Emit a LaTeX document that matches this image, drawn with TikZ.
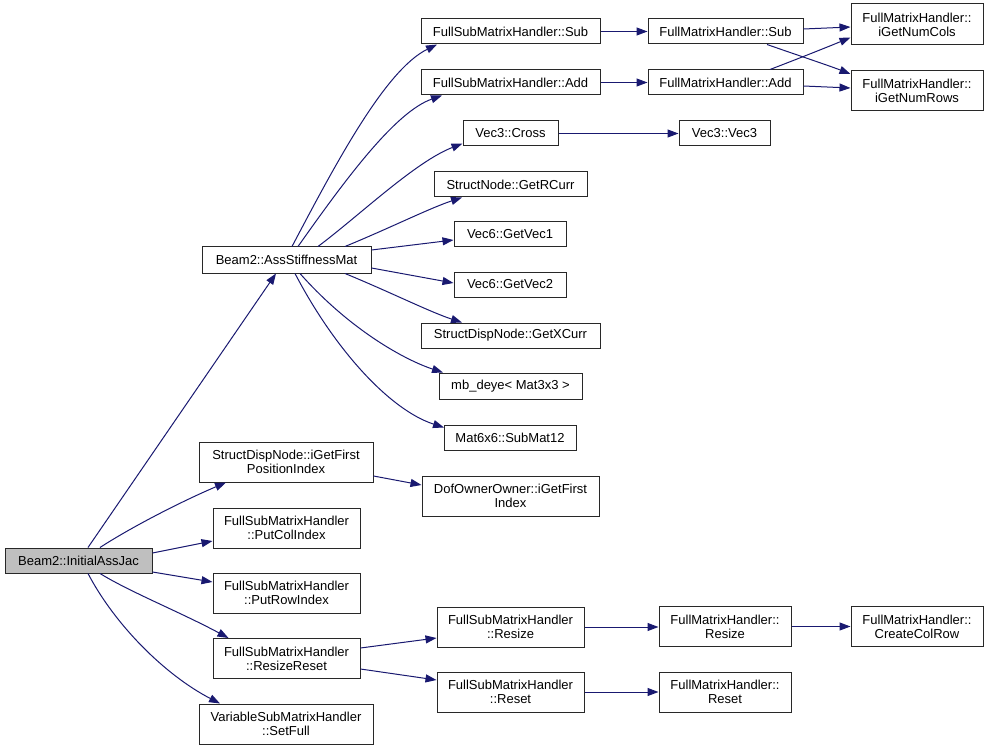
\documentclass[tikz,border=0pt]{standalone}
\usepackage{fontspec}
\setmainfont{Liberation Sans}
\usetikzlibrary{arrows.meta}
\definecolor{edgeblue}{RGB}{25,25,112}
\definecolor{rootgray}{RGB}{191,191,191}
\definecolor{boxline}{RGB}{40,40,40}
\tikzset{
  box/.style={draw=boxline, line width=1pt, fill=white, inner sep=0pt, align=center,
    font=\fontsize{13}{14}\selectfont},
  rootbox/.style={box, fill=rootgray},
  call/.style={draw=edgeblue, line width=1pt, -{Triangle[length=11pt,width=8pt]}},
}
\begin{document}
\begin{tikzpicture}[x=1pt,y=-1pt]
\useasboundingbox (0,0) rectangle (989,749);
% nodes
\node[rootbox, minimum width=147pt, minimum height=25pt] (root) at (78.5,560.5) {Beam2::InitialAssJac};
\node[box, minimum width=169pt, minimum height=26pt] (ass) at (286.5,260) {Beam2::AssStiffnessMat};
\node[box, minimum width=174pt, minimum height=40pt] (sdnpos) at (286,462) {StructDispNode::iGetFirst\\PositionIndex};
\node[box, minimum width=147pt, minimum height=40pt] (putcol) at (286.5,528) {FullSubMatrixHandler\\::PutColIndex};
\node[box, minimum width=147pt, minimum height=40pt] (putrow) at (286.5,593) {FullSubMatrixHandler\\::PutRowIndex};
\node[box, minimum width=147pt, minimum height=40pt] (rreset) at (286.5,658.5) {FullSubMatrixHandler\\::ResizeReset};
\node[box, minimum width=174pt, minimum height=40pt] (setfull) at (286,724) {VariableSubMatrixHandler\\::SetFull};
\node[box, minimum width=177pt, minimum height=40pt] (dof) at (510.5,496) {DofOwnerOwner::iGetFirst\\Index};
\node[box, minimum width=147pt, minimum height=40pt] (fsresize) at (510.5,627) {FullSubMatrixHandler\\::Resize};
\node[box, minimum width=147pt, minimum height=40pt] (fsreset) at (510.5,692) {FullSubMatrixHandler\\::Reset};
\node[box, minimum width=132pt, minimum height=40pt] (fmresize) at (725,626.5) {FullMatrixHandler::\\Resize};
\node[box, minimum width=132pt, minimum height=40pt] (fmreset) at (725,692) {FullMatrixHandler::\\Reset};
\node[box, minimum width=132pt, minimum height=40pt] (create) at (917,626.5) {FullMatrixHandler::\\CreateColRow};
\node[box, minimum width=179pt, minimum height=25pt] (fssub) at (510.5,31.5) {FullSubMatrixHandler::Sub};
\node[box, minimum width=179pt, minimum height=25pt] (fsadd) at (510.5,82.5) {FullSubMatrixHandler::Add};
\node[box, minimum width=155pt, minimum height=25pt] (fmsub) at (725.5,31.5) {FullMatrixHandler::Sub};
\node[box, minimum width=155pt, minimum height=25pt] (fmadd) at (725.5,82.5) {FullMatrixHandler::Add};
\node[box, minimum width=95pt, minimum height=25pt] (cross) at (510.5,133.5) {Vec3::Cross};
\node[box, minimum width=91pt, minimum height=25pt] (vec3) at (724.5,133.5) {Vec3::Vec3};
\node[box, minimum width=132pt, minimum height=41pt] (cols) at (917,24.5) {FullMatrixHandler::\\iGetNumCols};
\node[box, minimum width=132pt, minimum height=40pt] (rows) at (917,91) {FullMatrixHandler::\\iGetNumRows};
\node[box, minimum width=153pt, minimum height=25pt] (rcurr) at (510.5,184.5) {StructNode::GetRCurr};
\node[box, minimum width=112pt, minimum height=25pt] (vec1) at (510,234.5) {Vec6::GetVec1};
\node[box, minimum width=112pt, minimum height=25pt] (vec2) at (510,284.5) {Vec6::GetVec2};
\node[box, minimum width=179pt, minimum height=25pt] (xcurr) at (510.5,335.5) {StructDispNode::GetXCurr};
\node[box, minimum width=143pt, minimum height=26pt] (deye) at (510.5,386) {mb\_deye< Mat3x3 >};
\node[box, minimum width=132pt, minimum height=25pt] (submat) at (510,437.5) {Mat6x6::SubMat12};
% edges from root
\draw[call] ([xshift=9.5pt]root.north) -- ([xshift=-10.5pt]ass.south);
\draw[call] ([xshift=21.5pt]root.north) .. controls (130,528) and (180,502) .. ([xshift=-60pt]sdnpos.south);
\draw[call] ([yshift=7.5pt]root.east) -- ([yshift=-13pt]putcol.west);
\draw[call] ([yshift=-11.5pt]root.east) -- ([yshift=11pt]putrow.west);
\draw[call] ([xshift=21.5pt]root.south) .. controls (130,592) and (180,612) .. ([xshift=-58pt]rreset.north);
\draw[call] ([xshift=9.5pt]root.south) .. controls (115,625) and (165,675) .. ([xshift=-66pt]setfull.north);
% edges from AssStiffnessMat
\draw[call] ([xshift=5.5pt]ass.north) .. controls (335,165) and (385,70) .. ([xshift=-73.5pt]fssub.south);
\draw[call] ([xshift=11.5pt]ass.north) .. controls (345,180) and (395,112) .. ([xshift=-68.5pt]fsadd.south);
\draw[call] ([xshift=31.5pt]ass.north) .. controls (360,215) and (415,162) .. ([yshift=-10pt]cross.west);
\draw[call] ([xshift=58.5pt]ass.north) .. controls (390,228) and (430,208) .. ([xshift=-48.5pt]rcurr.south);
\draw[call] ([yshift=10pt]ass.east) -- ([yshift=-5.5pt]vec1.west);
\draw[call] ([yshift=-8pt]ass.east) -- ([yshift=1.5pt]vec2.west);
\draw[call] ([xshift=58.5pt]ass.south) .. controls (390,292) and (430,312) .. ([xshift=-48.5pt]xcurr.north);
\draw[call] ([xshift=13.5pt]ass.south) .. controls (350,330) and (405,360) .. ([xshift=-67.5pt]deye.north);
\draw[call] ([xshift=8.5pt]ass.south) .. controls (335,350) and (390,410) .. ([xshift=-66pt,yshift=-3pt]submat.north);
% other edges
\draw[call] ([yshift=-14pt]sdnpos.east) -- ([yshift=11pt]dof.west);
\draw[call] ([yshift=10.5pt]rreset.east) -- ([yshift=-11pt]fsresize.west);
\draw[call] ([yshift=-10.5pt]rreset.east) -- ([yshift=12pt]fsreset.west);
\draw[call] (fsresize.east) -- (fsresize.east -| fmresize.west);
\draw[call] (fsreset.east) -- (fmreset.west);
\draw[call] (fmresize.east) -- (fmresize.east -| create.west);
\draw[call] (fssub.east) -- (fmsub.west);
\draw[call] (fsadd.east) -- (fmadd.west);
\draw[call] (cross.east) -- (vec3.west);
\draw[call] ([yshift=2.5pt]fmsub.east) -- ([yshift=-2.5pt]cols.west);
\draw[call] ([xshift=41.5pt]fmsub.south) .. controls (800,56) and (830,66) .. ([yshift=17pt]rows.west);
\draw[call] ([xshift=44.5pt]fmadd.north) .. controls (800,58) and (830,46) .. ([yshift=-13pt]cols.west);
\draw[call] ([yshift=-3.5pt]fmadd.east) -- ([yshift=3pt]rows.west);
\end{tikzpicture}
\end{document}
